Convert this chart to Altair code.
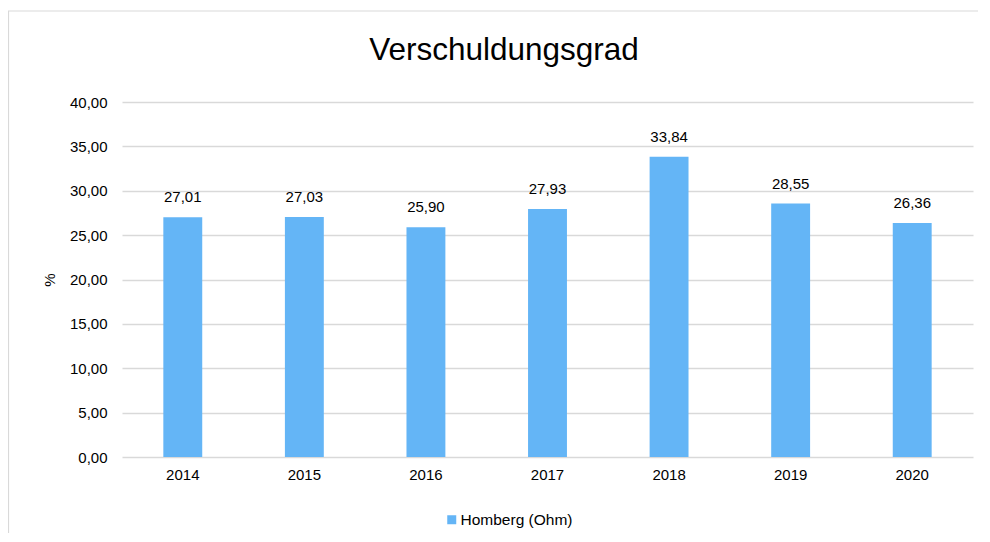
import altair as alt
import pandas as pd

TITLE = "Verschuldungsgrad"
years = ["2014", "2015", "2016", "2017", "2018", "2019", "2020"]
values = [27.01, 27.03, 25.90, 27.93, 33.84, 28.55, 26.36]
series = "Homberg (Ohm)"

df = pd.DataFrame({"Jahr": years, "Wert": values, "Serie": [series] * len(years)})

FONT = "Liberation Sans"
W, H = 851, 355

base = alt.Chart(df)
one = base.transform_filter("datum.Jahr == '2014'")

border = one.mark_rect(
    fill="transparent", stroke="#D9D9D9", strokeWidth=1.2
).encode(
    x=alt.value(-113.5), x2=alt.value(900), y=alt.value(-91), y2=alt.value(600)
)

title = one.mark_text(
    text=TITLE, font=FONT, fontSize=31.5, color="#000000",
    align="center", baseline="middle"
).encode(x=alt.value(382), y=alt.value(-51))

bars = base.mark_bar(color="#64B5F6").encode(
    x=alt.X("Jahr:N", sort=years,
            scale=alt.Scale(paddingInner=0.68, paddingOuter=0.34),
            axis=alt.Axis(title=None, labelAngle=0, labelFont=FONT, labelFontSize=15,
                          labelColor="#000000", labelPadding=10, ticks=False,
                          domain=False, grid=False)),
    y=alt.Y("Wert:Q", scale=alt.Scale(domain=[0, 40]),
            axis=alt.Axis(title="%", values=[0, 5, 10, 15, 20, 25, 30, 35, 40],
                          labelExpr="replace(format(datum.value, '.2f'), '.', ',')",
                          labelFont=FONT, labelFontSize=15, labelColor="#000000",
                          labelPadding=15, ticks=False, domain=False,
                          grid=True, gridColor="#D9D9D9", gridWidth=1.5,
                          titleFont=FONT, titleFontSize=15, titleFontWeight="normal",
                          titleColor="#000000", titlePadding=12)),
    color=alt.Color("Serie:N", scale=alt.Scale(range=["#64B5F6"]),
                    legend=alt.Legend(title=None, orient="none", legendX=322, legendY=410,
                                      symbolType="square", symbolSize=81,
                                      symbolStrokeWidth=0, labelFont=FONT,
                                      labelFontSize=15.5, labelColor="#000000",
                                      labelOffset=1)),
)

labels = base.transform_calculate(
    lbl="replace(format(datum.Wert, '.2f'), '.', ',')"
).mark_text(font=FONT, fontSize=15, color="#000000", dy=-15, baseline="alphabetic").encode(
    x=alt.X("Jahr:N", sort=years),
    y=alt.Y("Wert:Q"),
    text="lbl:N",
)

chart = alt.layer(border, title, bars, labels).properties(
    width=W, height=H,
    background="white",
    autosize=alt.AutoSizeParams(type="none"),
    padding={"left": 114, "top": 94, "right": 5, "bottom": 76},
).configure_view(stroke="transparent", strokeWidth=0)

chart.save("out.html", embed_options={"renderer": "svg", "actions": False})
